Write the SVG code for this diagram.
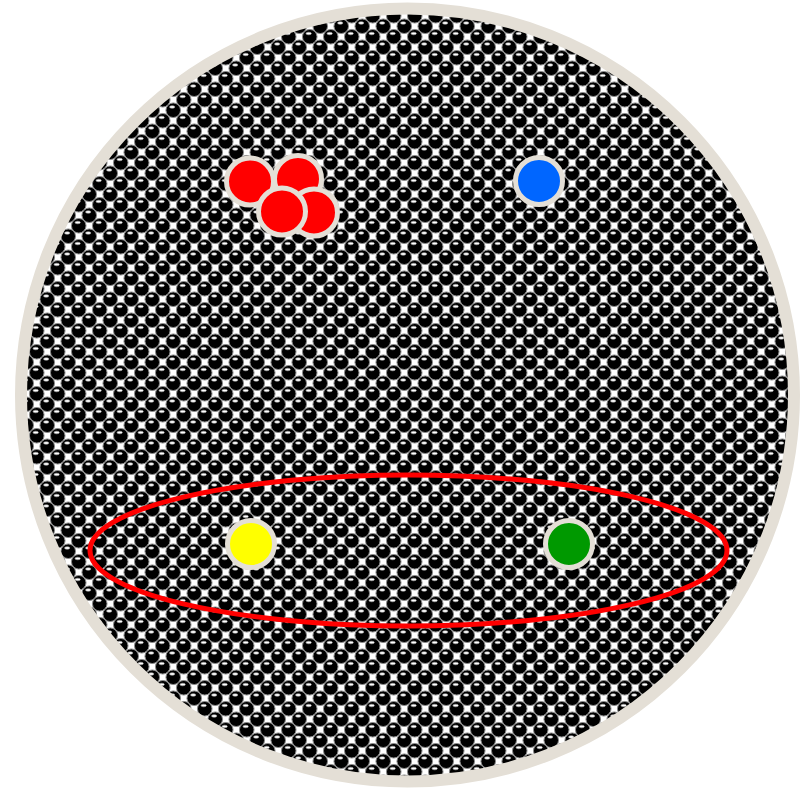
<svg xmlns="http://www.w3.org/2000/svg" width="807" height="788" viewBox="0 0 807 788">
<defs>
<pattern id="dots" width="21" height="21" patternUnits="userSpaceOnUse">
<rect width="21" height="21" fill="#ffffff"/>
<g fill="#000" stroke="#8a8a8a" stroke-width="1">
<circle cx="5.25" cy="5.25" r="7.3"/>
<circle cx="26.25" cy="5.25" r="7.3"/>
<circle cx="5.25" cy="26.25" r="7.3"/>
<circle cx="26.25" cy="26.25" r="7.3"/>
<circle cx="15.75" cy="15.75" r="7.3"/>
<circle cx="-5.25" cy="15.75" r="7.3"/>
<circle cx="15.75" cy="-5.25" r="7.3"/>
<circle cx="-5.25" cy="-5.25" r="7.3"/>
</g>
<g fill="#fff" stroke="#999" stroke-width="0.6">
<ellipse cx="4.2" cy="2" rx="2.7" ry="1.3"/>
<ellipse cx="14.7" cy="12.5" rx="2.7" ry="1.3"/>
</g>
</pattern>
<style>
.node{stroke:#e4dfd6;stroke-width:5}
</style>
</defs>
<g id="background">
<circle cx="407.5" cy="395" r="386.5" fill="url(#dots)" stroke="#e4dfd6" stroke-width="12"/>
</g>
<g id="connectors">
<ellipse cx="408.5" cy="550.5" rx="318.5" ry="75.5" fill="none" stroke="#ff0000" stroke-width="5"/>
</g>
<g id="node-red-2"><circle class="node" cx="298" cy="179" r="23.5" fill="#ff0000"/></g>
<g id="node-red-1"><circle class="node" cx="250" cy="181.5" r="23.5" fill="#ff0000"/></g>
<g id="node-red-4"><circle class="node" cx="314" cy="212.5" r="23.5" fill="#ff0000"/></g>
<g id="node-red-3"><circle class="node" cx="282" cy="211.5" r="23.5" fill="#ff0000"/></g>
<g id="node-blue"><circle class="node" cx="539" cy="181" r="23.5" fill="#0066ff"/></g>
<g id="node-yellow"><circle class="node" cx="251" cy="544" r="23.5" fill="#ffff00"/></g>
<g id="node-green"><circle class="node" cx="569" cy="544" r="23.5" fill="#009900"/></g>
</svg>
